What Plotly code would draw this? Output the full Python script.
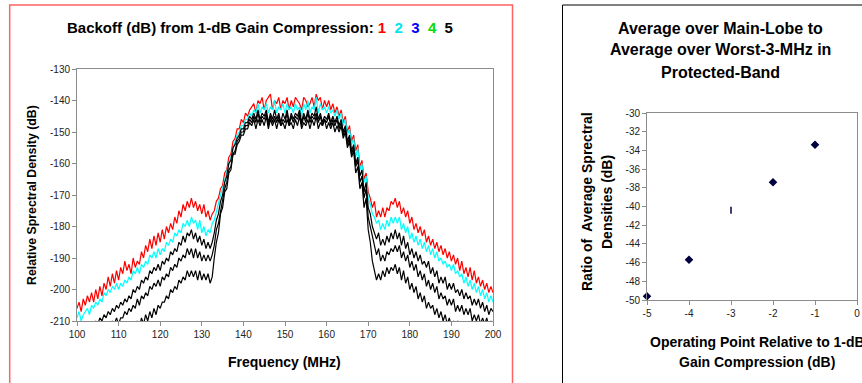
import plotly.graph_objects as go

# ---------------- data ----------------
freq_start, freq_step, n_pts = 100.0, 0.5, 201
freqs = [freq_start + freq_step * i for i in range(n_pts)]

s1_red = [
    -206, -204, -207, -203, -205, -202, -204, -201, -204, -200, -203, -199, -202, -198, -200, -196, -199, -195, -198, -194,
    -197, -193, -195, -191, -194, -192, -195, -190, -193, -191, -192, -188, -190, -186, -188, -184, -187, -183, -186, -182,
    -185, -181, -184, -180, -182, -179, -181, -177, -179, -175, -177, -173, -175, -172, -174, -171, -174, -172, -175, -173,
    -176, -173, -177, -175, -178, -176, -175, -172, -171, -168, -167, -163, -162, -158, -157, -153, -152, -149, -149, -146,
    -147, -144, -145, -143, -142, -141, -144, -140, -141, -139, -143, -140, -139, -138, -143, -140, -141, -139, -143, -140,
    -141, -139, -143, -140, -142, -139, -140, -141, -143, -139, -140, -142, -141, -139, -142, -138, -140, -139, -143, -140,
    -142, -140, -143, -141, -144, -142, -145, -143, -147, -145, -150, -148, -153, -151, -156, -154, -161, -159, -165, -163,
    -169, -171, -174, -172, -177, -175, -177, -174, -177, -174, -175, -172, -173, -171, -174, -172, -176, -174, -177, -175,
    -179, -177, -181, -179, -182, -180, -183, -181, -185, -183, -186, -184, -187, -185, -188, -186, -189, -187, -190, -188,
    -191, -189, -192, -190, -194, -191, -195, -193, -196, -193, -197, -194, -198, -196, -199, -197, -200, -198, -201, -199,
    -201,
]
s2_cyan = [
    -209, -207, -210, -208, -207, -206, -208, -205, -206, -204, -205, -203, -204, -201, -202, -200, -201, -199, -200, -198,
    -200, -198, -199, -197, -198, -196, -197, -194, -195, -193, -195, -192, -193, -191, -192, -189, -190, -188, -190, -187,
    -189, -187, -188, -185, -186, -184, -185, -182, -183, -181, -182, -179, -180, -178, -180, -177, -179, -178, -181, -178,
    -182, -180, -183, -181, -182, -179, -178, -175, -173, -170, -168, -165, -163, -160, -158, -155, -153, -151, -150, -148,
    -148, -146, -146, -144, -145, -143, -144, -141, -144, -142, -143, -141, -144, -142, -143, -140, -144, -142, -143, -141,
    -144, -141, -143, -142, -144, -141, -143, -142, -145, -141, -143, -140, -144, -142, -143, -139, -144, -141, -143, -142,
    -144, -142, -144, -143, -145, -143, -146, -144, -148, -146, -151, -149, -154, -152, -158, -155, -162, -160, -166, -164,
    -171, -173, -176, -177, -179, -178, -181, -179, -181, -178, -180, -177, -179, -177, -179, -177, -181, -179, -182, -180,
    -184, -182, -185, -183, -186, -184, -187, -185, -188, -186, -189, -187, -190, -188, -191, -190, -192, -191, -193, -192,
    -194, -192, -195, -194, -196, -195, -198, -196, -199, -197, -200, -198, -201, -199, -202, -200, -203, -201, -204, -202,
    -204,
]
s3_blue = [
    -214, -212, -213, -211, -214, -212, -213, -211, -212, -210, -211, -209, -210, -208, -209, -207, -208, -206, -207, -205,
    -206, -204, -205, -203, -204, -202, -203, -200, -201, -199, -200, -197, -198, -196, -197, -194, -195, -193, -194, -192,
    -194, -191, -192, -190, -191, -188, -189, -187, -188, -185, -186, -183, -185, -182, -183, -181, -184, -182, -185, -183,
    -186, -184, -187, -185, -187, -185, -182, -178, -176, -172, -170, -166, -164, -160, -159, -155, -154, -152, -151, -149,
    -149, -147, -147, -145, -146, -144, -146, -143, -146, -144, -145, -143, -147, -144, -146, -143, -146, -144, -147, -144,
    -146, -143, -147, -144, -146, -144, -145, -143, -147, -144, -146, -143, -146, -144, -145, -142, -146, -144, -147, -145,
    -146, -144, -147, -145, -147, -145, -148, -146, -150, -148, -153, -151, -156, -154, -160, -158, -164, -162, -169, -166,
    -174, -176, -180, -182, -184, -182, -186, -184, -186, -183, -185, -182, -184, -181, -184, -182, -186, -183, -187, -185,
    -189, -187, -190, -188, -191, -189, -192, -191, -193, -191, -195, -193, -196, -194, -198, -196, -198, -196, -200, -198,
    -200, -198, -201, -200, -202, -200, -203, -201, -203, -202, -205, -203, -205, -203, -206, -204, -207, -205, -208, -206,
    -207,
]
s4_green = [
    -219, -217, -218, -216, -218, -216, -217, -215, -216, -214, -215, -213, -214, -212, -213, -211, -212, -210, -211, -209,
    -211, -209, -209, -207, -208, -206, -207, -205, -206, -203, -205, -202, -203, -201, -202, -199, -200, -198, -199, -197,
    -199, -196, -197, -195, -196, -193, -194, -192, -193, -190, -191, -189, -190, -187, -189, -187, -190, -187, -190, -188,
    -191, -189, -191, -189, -191, -189, -186, -181, -179, -175, -172, -168, -166, -162, -161, -157, -156, -153, -152, -150,
    -150, -148, -148, -146, -147, -145, -147, -144, -147, -145, -146, -144, -148, -145, -147, -145, -147, -145, -148, -146,
    -147, -144, -148, -145, -147, -145, -146, -144, -148, -145, -147, -144, -147, -145, -146, -144, -147, -145, -148, -146,
    -147, -145, -148, -146, -148, -146, -149, -147, -151, -149, -154, -152, -157, -155, -161, -159, -166, -164, -171, -168,
    -177, -180, -184, -186, -189, -187, -191, -189, -191, -188, -189, -187, -188, -186, -188, -186, -190, -188, -191, -189,
    -193, -191, -194, -192, -196, -194, -197, -195, -199, -197, -200, -198, -201, -199, -203, -201, -203, -202, -205, -203,
    -205, -203, -207, -205, -207, -205, -208, -206, -208, -206, -210, -208, -210, -208, -211, -209, -211, -209, -212, -210,
    -211,
]
s5_black = [
    -223, -221, -222, -220, -222, -220, -221, -219, -220, -218, -219, -217, -219, -217, -218, -216, -217, -215, -216, -214,
    -216, -214, -215, -213, -214, -212, -213, -211, -213, -210, -212, -209, -211, -208, -210, -207, -209, -206, -208, -205,
    -206, -204, -204, -202, -203, -200, -201, -199, -200, -197, -198, -196, -197, -194, -196, -194, -196, -194, -197, -194,
    -197, -195, -197, -195, -198, -196, -190, -185, -182, -176, -174, -169, -168, -163, -162, -157, -157, -154, -153, -151,
    -151, -149, -149, -147, -148, -146, -149, -146, -148, -146, -148, -145, -149, -146, -148, -146, -149, -146, -148, -147,
    -149, -146, -148, -147, -149, -146, -148, -145, -149, -147, -148, -146, -149, -146, -148, -145, -149, -147, -148, -146,
    -149, -147, -149, -147, -150, -148, -150, -148, -152, -150, -155, -153, -158, -156, -163, -161, -168, -166, -174, -171,
    -181, -185, -191, -194, -197, -195, -197, -194, -196, -193, -195, -193, -194, -192, -195, -193, -197, -194, -198, -196,
    -200, -198, -201, -199, -203, -201, -204, -202, -206, -204, -206, -205, -208, -206, -209, -207, -210, -208, -211, -209,
    -212, -210, -212, -210, -213, -211, -213, -212, -214, -212, -214, -212, -215, -213, -215, -213, -215, -214, -216, -214,
    -215,
]
spectra = [s1_red, s2_cyan, s3_blue, s4_green, s5_black]
for s in spectra:
    assert len(s) == n_pts, len(s)

op_point = [-5, -4, -3, -2, -1]
ratio_db = [-49.6, -45.7, -40.4, -37.4, -33.4]

x1_ticks = [100, 110, 120, 130, 140, 150, 160, 170, 180, 190, 200]
x1_labels = [str(v) for v in x1_ticks]
y1_ticks = [-210, -200, -190, -180, -170, -160, -150, -140, -130]
y1_labels = ["-210", "-200", "-190", "-180", "-170", "-160", "-150", "-140", "-130"]
x2_ticks = [-5, -4, -3, -2, -1, 0]
x2_labels = ["-5", "-4", "-3", "-2", "-1", "0"]
y2_ticks = [-50, -48, -46, -44, -42, -40, -38, -36, -34, -32, -30]
y2_labels = [str(v) for v in y2_ticks]

# ---------------- figure ----------------
W, H = 862, 383
FONT = "Arial, Liberation Sans, sans-serif"


def px(x):
    return x / W


def py(y):
    return 1 - y / H


line_colors = ["#ff0000", "#00ffff", "#000000", "#000000", "#000000"]

fig = go.Figure()
for s, c in zip(spectra, line_colors):
    fig.add_trace(go.Scatter(x=freqs, y=s, mode="lines", line=dict(color=c, width=1.2),
                             xaxis="x", yaxis="y", showlegend=False))

fig.add_trace(go.Scatter(
    x=op_point, y=ratio_db, mode="markers", xaxis="x2", yaxis="y2", showlegend=False,
    cliponaxis=False,
    marker=dict(symbol=["diamond", "diamond", "line-ns", "diamond", "diamond"], size=5,
                color="#000040", line=dict(color="#000040", width=1.5)),
))

axis_common = dict(showgrid=False, zeroline=False, showline=True, linecolor="#8c8c8c",
                   linewidth=1, mirror=True, ticks="outside", ticklen=4, tickcolor="#8c8c8c",
                   tickfont=dict(family=FONT, size=10, color="#222222"))

fig.update_layout(
    width=W, height=H, autosize=False,
    margin=dict(l=0, r=0, t=0, b=0, pad=0, autoexpand=False),
    paper_bgcolor="white", plot_bgcolor="white",
    xaxis=dict(domain=[px(77), px(493)], range=[100, 200], tickvals=x1_ticks, ticktext=x1_labels,
               anchor="y", **axis_common),
    yaxis=dict(domain=[py(321), py(69)], range=[-210, -130], tickvals=y1_ticks, ticktext=y1_labels,
               anchor="x", **axis_common),
    xaxis2=dict(domain=[px(647), px(857)], range=[-5, 0], tickvals=x2_ticks, ticktext=x2_labels,
                anchor="y2", **axis_common),
    yaxis2=dict(domain=[py(300), py(113)], range=[-50, -30], tickvals=y2_ticks, ticktext=y2_labels,
                anchor="x2", **axis_common),
)

# panel borders
fig.add_shape(type="rect", xref="paper", yref="paper", x0=px(9.7), x1=px(512.5), y0=-0.2, y1=py(5),
              line=dict(color="#ff6262", width=1.5), layer="below")
fig.add_shape(type="rect", xref="paper", yref="paper", x0=px(562.5), x1=1.2, y0=-0.2, y1=py(5),
              line=dict(color="#000000", width=1), layer="below")


def ann(text, x, y, size=13, angle=0):
    fig.add_annotation(text=text, x=px(x), y=py(y), xref="paper", yref="paper",
                       xanchor="center", yanchor="middle", showarrow=False, textangle=angle,
                       font=dict(family=FONT, size=size, color="#000000"))


sp = "&nbsp;&nbsp;"
title_left = ("<b>Backoff (dB) from 1-dB Gain Compression: "
              "<span style='color:#ff0000'>1</span>" + sp +
              "<span style='color:#00e5ee'>2</span>" + sp +
              "<span style='color:#0000ff'>3</span>" + sp +
              "<span style='color:#00dd00'>4</span>" + sp +
              "<span style='color:#000000'>5</span></b>")
ann(title_left, 260, 27, 15)
ann("<b>Relative Sprectral Density (dB)</b>", 32, 195, 12.3, -90)
ann("<b>Frequency (MHz)</b>", 284, 362, 14)

ann("<b>Average over Main-Lobe to</b>", 720, 28, 16)
ann("<b>Average over Worst-3-MHz in</b>", 720, 50, 16)
ann("<b>Protected-Band</b>", 720, 72, 16)
ann("<b>Ratio of  Average Sprectral</b>", 587, 202, 14, -90)
ann("<b>Densities (dB)</b>", 607, 202, 14, -90)
ann("<b>Operating Point Relative to 1-dB</b>", 757, 342, 14)
ann("<b>Gain Compression (dB)</b>", 757, 362, 14)

fig.write_html(
    "out.html",
    config={"displayModeBar": False, "staticPlot": True},
    post_script="document.body.style.margin='0px';document.body.style.overflow='hidden';",
)
